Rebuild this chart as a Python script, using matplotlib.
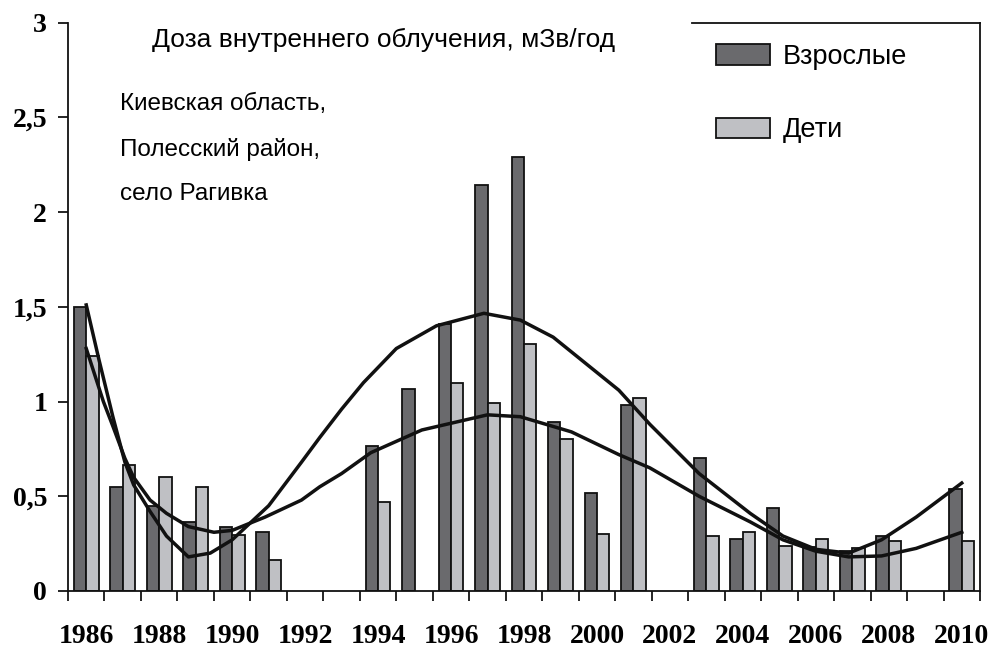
import numpy as np
import matplotlib.pyplot as plt
from matplotlib.patches import Patch
from matplotlib.lines import Line2D

nan = np.nan

# --- data ---
years = list(range(1986, 2011))
adults = [1.50, 0.55, 0.45, 0.365, 0.34, 0.31, nan, nan, 0.765, 1.065,
          1.41, 2.145, 2.29, 0.89, 0.515, 0.98, nan, 0.70, 0.275, 0.44,
          0.23, 0.21, 0.29, nan, 0.54]
children = [1.24, 0.665, 0.60, 0.55, 0.295, 0.163, nan, nan, 0.468, nan,
            1.10, 0.99, 1.306, 0.805, 0.30, 1.02, nan, 0.29, 0.313, 0.24,
            0.276, 0.225, 0.265, nan, 0.265]

# trend lines
trend_adult_x = [1986, 1986.35, 1986.73, 1987.06, 1987.3, 1987.75, 1988.2,
                 1988.8, 1989.4, 1990.0, 1991.0, 1991.9, 1992.4, 1993.0,
                 1993.6, 1994.5, 1995.6, 1996.9, 1997.9, 1998.8, 1999.7,
                 2000.6, 2001.45, 2002.8, 2004.2, 2005.1, 2006.0, 2006.9,
                 2007.8, 2008.75, 2010]
trend_adult_y = [1.51, 1.22, 0.92, 0.68, 0.56, 0.42, 0.29, 0.18, 0.20, 0.27,
                 0.45, 0.68, 0.81, 0.96, 1.10, 1.28, 1.40, 1.466, 1.43, 1.34,
                 1.20, 1.06, 0.88, 0.62, 0.41, 0.29, 0.22, 0.20, 0.27, 0.39,
                 0.57]
trend_child_x = [1986, 1986.47, 1986.73, 1987.06, 1987.3, 1987.75, 1988.2,
                 1988.8, 1989.5, 1990.0, 1990.9, 1991.9, 1992.4, 1993.0,
                 1993.8, 1995.2, 1997.0, 1997.9, 1999.3, 2000.6, 2001.45,
                 2002.8, 2004.2, 2005.1, 2006.0, 2006.9, 2007.8, 2008.75, 2010]
trend_child_y = [1.28, 1.00, 0.87, 0.70, 0.60, 0.48, 0.41, 0.34, 0.31, 0.32,
                 0.39, 0.48, 0.55, 0.62, 0.73, 0.85, 0.93, 0.92, 0.84, 0.72,
                 0.65, 0.50, 0.365, 0.27, 0.21, 0.18, 0.185, 0.225, 0.31]

yticks = [0, 0.5, 1, 1.5, 2, 2.5, 3]
ytick_labels = ['0', '0,5', '1', '1,5', '2', '2,5', '3']

dark = '#6a6a6d'
light = '#bfc0c4'

W, H = 991, 650
fig = plt.figure(figsize=(W / 100, H / 100), dpi=100)
ax = fig.add_axes([68 / W, 59 / H, 912 / W, 568.3 / H])

x = np.arange(len(years))
bw = 0.34
ax.bar(x, adults, width=-bw, align='edge', color=dark, edgecolor='#111111',
       linewidth=1.3, label='Взрослые', zorder=2)
ax.bar(x, children, width=bw, align='edge', color=light, edgecolor='#111111',
       linewidth=1.3, label='Дети', zorder=2)

ax.plot(np.array(trend_adult_x) - years[0], trend_adult_y, color='#111111',
        lw=2.5, solid_joinstyle='round', zorder=3)
ax.plot(np.array(trend_child_x) - years[0], trend_child_y, color='#111111',
        lw=2.5, solid_joinstyle='round', zorder=3)

ax.set_xlim(-0.5, len(years) - 0.5)
ax.set_ylim(0, 3)

# ticks on category borders, labels on every other year
ax.set_xticks(np.arange(-0.5, len(years), 1.0))
ax.set_xticklabels([])
ax.set_xticks(x[::2], minor=True)
ax.set_xticklabels([str(y) for y in years[::2]], minor=True,
                   fontfamily='Liberation Serif', fontweight='bold', fontsize=20)
ax.tick_params(axis='x', which='major', direction='out', length=7, width=1.2)
ax.tick_params(axis='x', which='minor', length=0, pad=24)

ax.set_yticks(yticks)
ax.set_yticklabels(ytick_labels, fontfamily='Liberation Serif',
                   fontweight='bold', fontsize=20)
ax.tick_params(axis='y', direction='out', length=7, width=1.2, pad=8)

for s in ['left', 'bottom', 'right']:
    ax.spines[s].set_linewidth(1.3)
    ax.spines[s].set_color('#111111')
ax.spines['top'].set_visible(False)
ax.add_line(Line2D([0.684, 1.0], [1.0, 1.0], transform=ax.transAxes,
                   color='#111111', lw=1.3, clip_on=False))

# texts
fig.text(152 / W, 1 - 47 / H, 'Доза внутреннего облучения, мЗв/год',
         fontfamily='Liberation Sans', fontsize=19, va='baseline')
for txt, yb in [('Киевская область,', 110), ('Полесский район,', 156),
                ('село Рагивка', 200)]:
    fig.text(120 / W, 1 - yb / H, txt, fontfamily='Liberation Sans',
             fontsize=17.5, va='baseline')

handles = [Patch(facecolor=dark, edgecolor='#111111', lw=1.3),
           Patch(facecolor=light, edgecolor='#111111', lw=1.3)]
leg = ax.legend(handles, ['Взрослые', 'Дети'], loc='upper left',
                bbox_to_anchor=(716 / W, 1 - 44 / H),
                bbox_transform=fig.transFigure, frameon=False,
                prop={'family': 'Liberation Sans', 'size': 19.5},
                handlelength=2.0, handleheight=0.78, handletextpad=0.45,
                labelspacing=1.75, borderpad=0, borderaxespad=0)

fig.savefig('out.png', dpi=100)
